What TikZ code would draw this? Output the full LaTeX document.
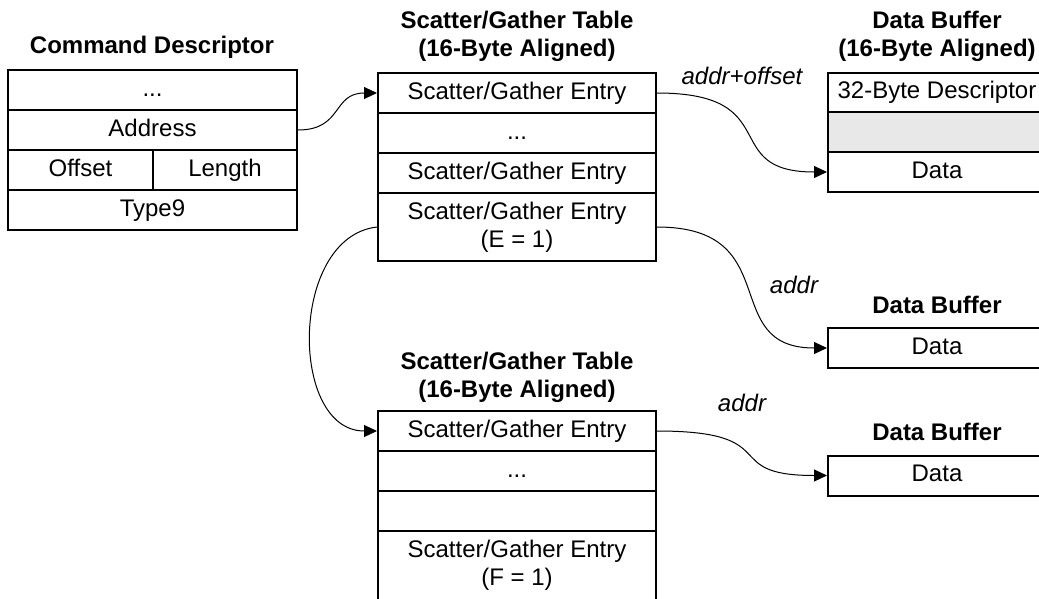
\documentclass[tikz,border=0pt]{standalone}
\usepackage{fontspec}
\setmainfont{Liberation Sans}
\usetikzlibrary{arrows.meta}

\begin{document}
\begin{tikzpicture}[x=1pt,y=-1pt,font=\fontsize{24}{28}\selectfont,
    cellx/.style={draw,line width=2pt,inner sep=0pt,minimum height=40pt,align=center},
    cell/.style={cellx,text height=17pt,text depth=5pt},
    title/.style={font=\fontsize{24}{28}\selectfont\bfseries,align=center},
    lbl/.style={font=\fontsize{24}{28}\selectfont\itshape},
    link/.style={line width=1pt,-{Triangle[length=13pt,width=12pt]}}]
    \useasboundingbox (0,0) rectangle (1039,598);

    \node[title] (cdTitle) at (152,47) {Command Descriptor};
    \node[cell,minimum width=289pt] (cdDots) at (152.5,90) {...};
    \node[cell,minimum width=289pt] (cdAddr) at (152.5,130) {Address};
    \node[cell,minimum width=145pt] (cdOff) at (80.5,170) {Offset};
    \node[cell,minimum width=144pt] (cdLen) at (225,170) {Length};
    \node[cell,minimum width=289pt] (cdType) at (152.5,210) {Type9};

    \node[title] (sgaTitle) at (517,36) {Scatter/Gather Table\\(16-Byte Aligned)};
    \node[cell,minimum width=278pt] (sgaA) at (517,93) {Scatter/Gather Entry};
    \node[cell,minimum width=278pt] (sgaDots) at (517,133) {...};
    \node[cell,minimum width=278pt] (sgaB) at (517,173) {Scatter/Gather Entry};
    \node[cellx,minimum width=278pt,minimum height=68pt] (sgaLast) at (517,227)
        {Scatter/Gather Entry\\(E = 1)};

    \node[title] (sgbTitle) at (517,377) {Scatter/Gather Table\\(16-Byte Aligned)};
    \node[cell,minimum width=278pt] (sgbA) at (517,431) {Scatter/Gather Entry};
    \node[cell,minimum width=278pt] (sgbDots) at (517,471) {...};
    \node[cell,minimum width=278pt] (sgbEmpty) at (517,511) {};
    \node[cellx,minimum width=278pt,minimum height=69pt] (sgbLast) at (517,565.5)
        {Scatter/Gather Entry\\(F = 1)};

    \node[title] (dbaTitle) at (937,36) {Data Buffer\\(16-Byte Aligned)};
    \node[cell,minimum width=218pt] (dbaDesc) at (937,92.5) {32-Byte Descriptor};
    \node[cell,minimum width=218pt,fill=black!9] (dbaGap) at (937,132) {};
    \node[cell,minimum width=218pt] (dbaData) at (937,172) {Data};

    \node[title] (dbbTitle) at (937,305) {Data Buffer};
    \node[cell,minimum width=218pt] (dbbData) at (937,348) {Data};

    \node[title] (dbcTitle) at (937,432) {Data Buffer};
    \node[cell,minimum width=218pt] (dbcData) at (937,475.5) {Data};

    \node[lbl] (lblOffset) at (742,76) {addr+offset};
    \node[lbl] (lblAddrA) at (794,285) {addr};
    \node[lbl] (lblAddrB) at (742,403) {addr};

    \draw[link] (cdAddr.east) .. controls +(45,0) and +(-45,0) .. (sgaA.west);
    \draw[link] (sgaA.east) .. controls +(130,0) and +(-110,0) .. (dbaData.west);
    \draw[link] (sgaLast.east) .. controls +(130,0) and +(-110,0) .. (dbbData.west);
    \draw[link] (sgaLast.west) .. controls +(-88,10) and +(-88,0) .. (sgbA.west);
    \draw[link] (sgbA.east) .. controls +(130,0) and +(-110,0) .. (dbcData.west);
\end{tikzpicture}
\end{document}
